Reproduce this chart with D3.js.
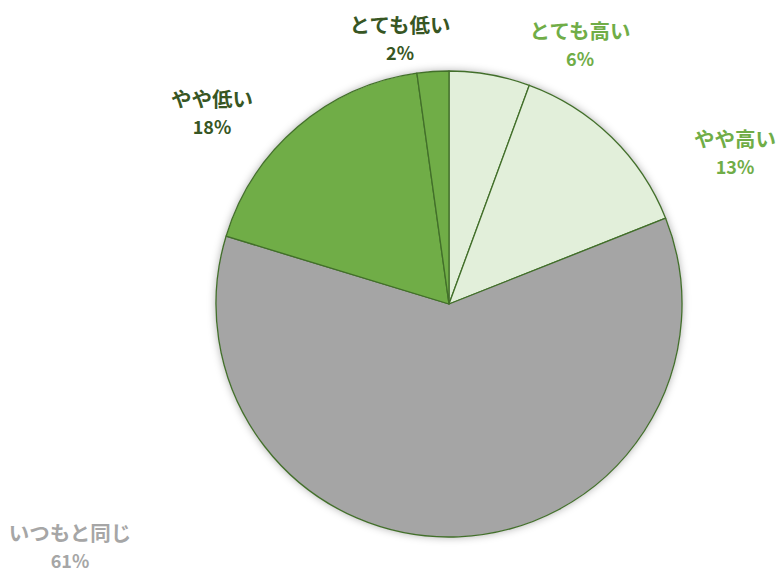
<!DOCTYPE html>
<html>
<head>
<meta charset="utf-8">
<script src="https://cdn.jsdelivr.net/npm/d3@7"></script>
<style>
  html, body { margin: 0; padding: 0; background: #fff; }
  svg { display: block; }
</style>
</head>
<body>
<div id="general"></div>
<script>
const w = 782, h = 572;

// data, clockwise from 12 o'clock
const categories = ["とても高い", "やや高い", "いつもと同じ", "やや低い", "とても低い"];
const values = [5.6, 13.4, 60.7, 18.1, 2.2];
const pctLabels = ["6%", "13%", "61%", "18%", "2%"];
const fills = ["#e2efda", "#e2efda", "#a5a5a5", "#70ad47", "#70ad47"];
const labelColors = ["#70ad47", "#70ad47", "#a6a6a6", "#375623", "#375623"];

const cx = 449, cy = 304, r = 233;
// label anchor positions (layout)
const labelAt = [[580, 32], [735, 140], [70, 534], [212, 100], [400, 26]];

const data = categories.map((c, i) => ({ cat: c, v: values[i], pct: pctLabels[i], fill: fills[i], lc: labelColors[i], pos: labelAt[i] }));

const svg = d3.select("#general").append("svg").attr("width", w).attr("height", h);

const defs = svg.append("defs");
const f = defs.append("filter").attr("id", "sh").attr("x", "-20%").attr("y", "-20%").attr("width", "140%").attr("height", "140%");
f.append("feDropShadow").attr("dx", 0).attr("dy", 0).attr("stdDeviation", 4).attr("flood-color", "#000").attr("flood-opacity", 0.35);

const pie = d3.pie().value(d => d.v).sort(null);
const arc = d3.arc().innerRadius(0).outerRadius(r);

const g = svg.append("g").attr("transform", `translate(${cx},${cy})`);

g.append("circle").attr("r", r).attr("fill", "#fff").attr("filter", "url(#sh)");

g.selectAll("path")
  .data(pie(data))
  .join("path")
    .attr("d", arc)
    .attr("fill", d => d.data.fill)
    .attr("stroke", "#426f2a")
    .attr("stroke-width", 1.3)
    .attr("stroke-linejoin", "round");

const font = "'Noto Sans CJK JP', 'Noto Sans', sans-serif";
const lab = svg.append("g").selectAll("g")
  .data(data)
  .join("g")
    .attr("transform", d => `translate(${d.pos[0]},${d.pos[1]})`)
    .attr("font-family", font)
    .attr("font-weight", "bold")
    .attr("text-anchor", "middle")
    .attr("fill", d => d.lc);

lab.append("text").attr("y", 0).attr("dy", "0.35em").attr("font-size", 20.5).text(d => d.cat);
lab.append("text").attr("y", 28).attr("dy", "0.35em").attr("font-size", 18).text(d => d.pct);
</script>
</body>
</html>
